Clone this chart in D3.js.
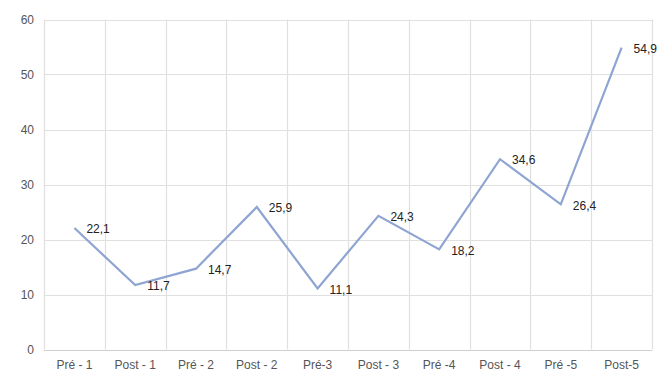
<!DOCTYPE html>
<html lang="en">
<head>
<meta charset="utf-8">
<title>Pré / Post</title>
<script src="https://d3js.org/d3.v7.min.js"></script>
<style>
  body { margin: 0; background: #fff; }
  svg text { font-family: "Liberation Sans", Arial, sans-serif; }
  .tick-label { fill: #555; font-size: 12px; }
  .value-label { fill: #222; font-size: 12px; }
</style>
</head>
<body>
<script>
  // data
  const categories = ["Pré - 1", "Post - 1", "Pré - 2", "Post - 2", "Pré-3", "Post - 3", "Pré -4", "Post - 4", "Pré -5", "Post-5"];
  const values = [22.1, 11.7, 14.7, 25.9, 11.1, 24.3, 18.2, 34.6, 26.4, 54.9];
  const yTicks = [0, 10, 20, 30, 40, 50, 60];

  const width = 659, height = 371;
  const margin = { top: 19.5, right: 7, bottom: 21.5, left: 44 };

  const svg = d3.select("body").append("svg")
    .attr("width", width)
    .attr("height", height);

  const x = d3.scaleBand()
    .domain(categories)
    .range([margin.left, width - margin.right]);

  const y = d3.scaleLinear()
    .domain([0, 60])
    .range([height - margin.bottom, margin.top]);

  // horizontal grid
  svg.append("g").selectAll("line")
    .data(yTicks)
    .enter().append("line")
    .attr("x1", margin.left)
    .attr("x2", width - margin.right)
    .attr("y1", d => Math.round(y(d)) + 0.5)
    .attr("y2", d => Math.round(y(d)) + 0.5)
    .attr("stroke", d => d === 0 ? "#cfcfcf" : "#e0e0e0")
    .attr("stroke-width", 1.2);

  // vertical grid at band edges
  const edges = categories.map(c => x(c)).concat([x.range()[1]]);
  svg.append("g").selectAll("line")
    .data(edges)
    .enter().append("line")
    .attr("x1", d => Math.round(d) + 0.5)
    .attr("x2", d => Math.round(d) + 0.5)
    .attr("y1", y(60))
    .attr("y2", y(0))
    .attr("stroke", "#e0e0e0")
    .attr("stroke-width", 1.2);

  // y tick labels
  svg.append("g").selectAll("text")
    .data(yTicks)
    .enter().append("text")
    .attr("class", "tick-label")
    .attr("x", 34)
    .attr("y", d => y(d))
    .attr("dy", "0.35em")
    .attr("text-anchor", "end")
    .text(d => d);

  // x tick labels
  svg.append("g").selectAll("text")
    .data(categories)
    .enter().append("text")
    .attr("class", "tick-label")
    .attr("x", d => x(d) + x.bandwidth() / 2)
    .attr("y", 364.5)
    .attr("dy", "0.35em")
    .attr("text-anchor", "middle")
    .text(d => d);

  // the line
  const line = d3.line()
    .x((d, i) => x(categories[i]) + x.bandwidth() / 2)
    .y(d => y(d));

  svg.append("path")
    .datum(values)
    .attr("fill", "none")
    .attr("stroke", "#8ea4d2")
    .attr("stroke-width", 2.2)
    .attr("stroke-linejoin", "miter")
    .attr("d", line);

  // value labels
  svg.append("g").selectAll("text")
    .data(values)
    .enter().append("text")
    .attr("class", "value-label")
    .attr("x", (d, i) => x(categories[i]) + x.bandwidth() / 2 + 12)
    .attr("y", d => y(d) + 1)
    .attr("dy", "0.35em")
    .text(d => d.toFixed(1).replace(".", ","));
</script>
</body>
</html>
